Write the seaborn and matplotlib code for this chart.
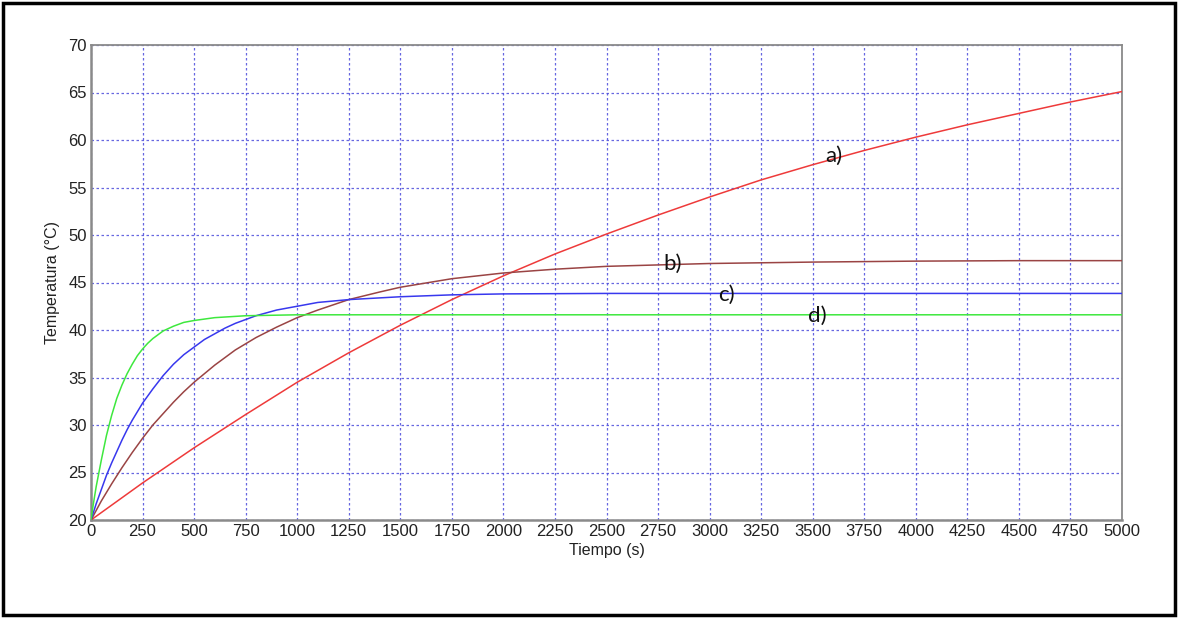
import matplotlib
matplotlib.use("Agg")
import matplotlib.pyplot as plt
import seaborn as sns
import pandas as pd
from matplotlib.patches import Rectangle

# ---- data ----
t_a = [0, 250, 500, 750, 1000, 1250, 1500, 1750, 2000, 2250, 2500, 2750, 3000,
       3250, 3500, 3750, 4000, 4250, 4500, 4750, 5000]
T_a = [20.0, 23.9, 27.6, 31.1, 34.5, 37.6, 40.5, 43.2, 45.7, 48.0, 50.1, 52.1, 54.0,
       55.8, 57.4, 58.9, 60.3, 61.6, 62.8, 64.0, 65.1]

t_b = [0, 25, 50, 75, 100, 150, 200, 250, 300, 350, 400, 450, 500, 600, 700, 800,
       900, 1000, 1100, 1250, 1400, 1500, 1750, 2000, 2250, 2500, 3000, 3500, 4000,
       4500, 5000]
T_b = [20.0, 21.0, 22.0, 22.9, 23.8, 25.5, 27.1, 28.6, 30.0, 31.2, 32.4, 33.5, 34.5,
       36.3, 37.9, 39.2, 40.3, 41.3, 42.1, 43.2, 44.0, 44.5, 45.4, 46.0, 46.4, 46.7,
       47.0, 47.15, 47.25, 47.3, 47.3]

t_c = [0, 25, 50, 75, 100, 125, 150, 175, 200, 250, 300, 350, 400, 450, 500, 550,
       600, 650, 700, 750, 800, 900, 1000, 1100, 1250, 1500, 1750, 2000, 2500, 3000,
       4000, 5000]
T_c = [20.0, 21.7, 23.2, 24.7, 26.0, 27.2, 28.4, 29.5, 30.5, 32.3, 33.8, 35.2, 36.4,
       37.4, 38.2, 39.0, 39.6, 40.2, 40.7, 41.1, 41.5, 42.1, 42.5, 42.9, 43.2, 43.5,
       43.7, 43.8, 43.85, 43.85, 43.85, 43.85]

t_d = [0, 10, 25, 50, 75, 100, 125, 150, 175, 200, 225, 250, 275, 300, 350, 400,
       450, 500, 600, 750, 1000, 2000, 3000, 4000, 5000]
T_d = [20.0, 21.5, 23.5, 26.3, 28.9, 31.0, 32.8, 34.2, 35.4, 36.4, 37.3, 38.0, 38.6,
       39.1, 39.9, 40.4, 40.8, 41.0, 41.3, 41.5, 41.6, 41.6, 41.6, 41.6, 41.6]

labels = ["a)", "b)", "c)", "d)"]
label_pos_t = [3600, 2820, 3080, 3520]
label_pos_T = [58.3, 47.0, 43.7, 41.5]

x_ticks = list(range(0, 5001, 250))
y_ticks = list(range(20, 71, 5))

colors = ["#ee3a3a", "#9a4444", "#3838ee", "#3ee83e"]

# ---- figure ----
sns.set_style("white")
plt.rcParams["font.family"] = ["Liberation Sans", "DejaVu Sans"]

fig = plt.figure(figsize=(11.78, 6.18), dpi=100)
ax = fig.add_axes([91 / 1178, 1 - 520 / 618, (1122 - 91) / 1178, (520 - 45) / 618])

series = [(t_a, T_a), (t_b, T_b), (t_c, T_c), (t_d, T_d)]
for (t, T), c in zip(series, colors):
    df = pd.DataFrame({"t": t, "T": T})
    sns.lineplot(data=df, x="t", y="T", ax=ax, color=c, linewidth=1.1,
                 estimator=None, sort=False, zorder=3)

for lab, lt, lT in zip(labels, label_pos_t, label_pos_T):
    ax.text(lt, lT, lab, fontsize=16, family=["Lato", "DejaVu Sans"],
            ha="center", va="center", color="#111111", zorder=4)

ax.set_xlim(0, 5000)
ax.set_ylim(20, 70)
ax.set_xticks(x_ticks)
ax.set_yticks(y_ticks)
ax.set_xticklabels([str(v) for v in x_ticks])
ax.set_yticklabels([str(v) for v in y_ticks])
ax.tick_params(axis="both", length=0, labelsize=12, pad=3, colors="#222222")
ax.grid(True, color="#5555dd", linestyle=(0, (2, 2)), linewidth=0.9, alpha=0.9)
ax.set_axisbelow(True)

for s in ax.spines.values():
    s.set_color("#8a8a8a")
    s.set_linewidth(1.3)
ax.spines["left"].set_linewidth(1.8)
ax.spines["bottom"].set_linewidth(1.8)

ax.set_xlabel("Tiempo (s)", fontsize=11.5, labelpad=3, color="#222222")
ax.set_ylabel("Temperatura (°C)", fontsize=11.5, labelpad=6, color="#222222")

# outer black frame
fig.patches.append(Rectangle((3 / 1178, 3 / 618), 1 - 6 / 1178, 1 - 6 / 618,
                             transform=fig.transFigure, fill=False,
                             edgecolor="black", linewidth=2.5))

fig.savefig("out.png", dpi=100)
